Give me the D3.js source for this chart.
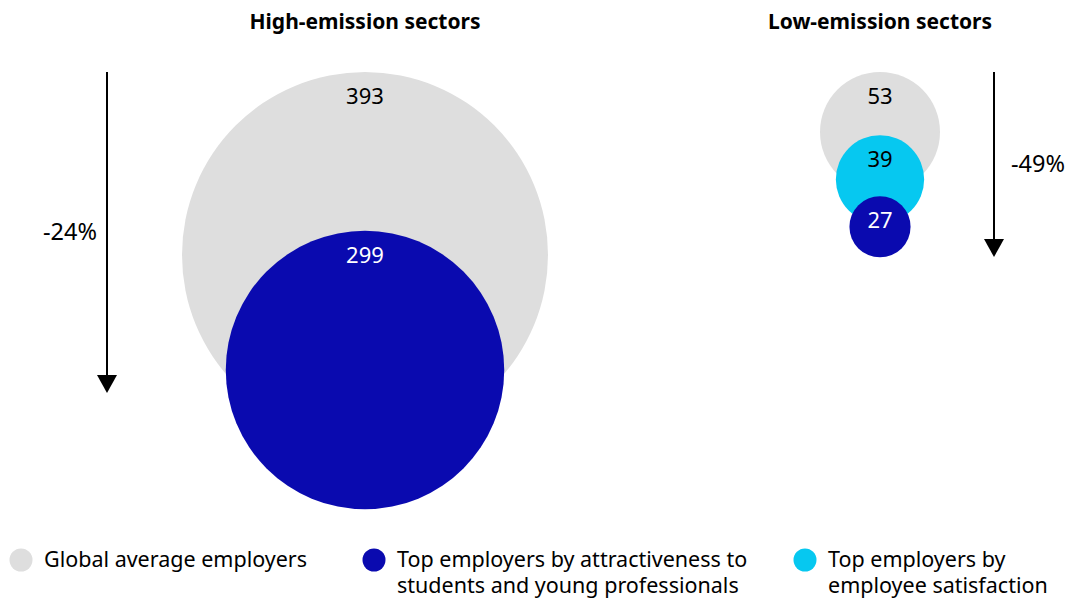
<!DOCTYPE html>
<html>
<head>
<meta charset="utf-8">
<script src="https://cdn.jsdelivr.net/npm/d3@7"></script>
<style>
  html, body { margin: 0; padding: 0; background: #fff; }
  svg text { font-family: "Noto Sans", "Open Sans", sans-serif; fill: #000; }
  .panel-title { font-weight: 700; font-size: 21px; }
  .value-label { font-size: 22px; }
  .change-label { font-size: 23.5px; }
  .legend-label { font-size: 21.5px; }
</style>
</head>
<body>
<div id="chart"></div>
<script>
// categories (series) shown in both panels and the legend
const seriesNames = [
  "Global average employers",
  "Top employers by attractiveness to students and young professionals",
  "Top employers by employee satisfaction"
];
const seriesColors = ["#dedede", "#0a0aaf", "#06c8f0"];

// legend labels split across two lines like the original
const legendLines = [
  ["Global average employers"],
  ["Top employers by attractiveness to", "students and young professionals"],
  ["Top employers by", "employee satisfaction"]
];

// panel data
const panelTitles = ["High-emission sectors", "Low-emission sectors"];
const highValues = [393, 299];        // global avg, attractiveness
const highSeries = [0, 1];
const lowValues = [53, 39, 27];       // global avg, satisfaction, attractiveness
const lowSeries = [0, 2, 1];
const changeLabels = ["-24%", "-49%"];

const width = 1068;
const height = 598;

const svg = d3.select("#chart")
  .append("svg")
  .attr("width", width)
  .attr("height", height)
  .attr("viewBox", [0, 0, width, height]);

// layout of each panel: centre x, max radius, step between stacked circle centres,
// arrow x and which side the change label sits on
const panels = [
  { title: panelTitles[0], values: highValues, series: highSeries, cx: 365, maxR: 183, step: 115,
    arrowX: 107, arrowEnd: 393, labelSide: "left", change: changeLabels[0] },
  { title: panelTitles[1], values: lowValues, series: lowSeries, cx: 880, maxR: 60, step: 47.4,
    arrowX: 994, arrowEnd: 257, labelSide: "right", change: changeLabels[1] }
];

const topY = 72;

// arrow marker
svg.append("defs")
  .append("marker")
  .attr("id", "arrowhead")
  .attr("viewBox", "0 0 20 18")
  .attr("refX", 10)
  .attr("refY", 0)
  .attr("markerWidth", 20)
  .attr("markerHeight", 18)
  .attr("markerUnits", "userSpaceOnUse")
  .attr("orient", "0")
  .append("path")
  .attr("d", "M0,0L20,0L10,18Z")
  .attr("fill", "#000");

panels.forEach((p) => {
  const g = svg.append("g");

  // radius proportional to value within each panel
  const r = d3.scaleLinear().domain([0, d3.max(p.values)]).range([0, p.maxR]);

  // title
  g.append("text")
    .attr("class", "panel-title")
    .attr("x", p.cx)
    .attr("y", 29)
    .attr("text-anchor", "middle")
    .text(p.title);

  const items = p.values.map((v, i) => ({
    value: v,
    color: seriesColors[p.series[i]],
    r: r(v),
    cy: topY + p.maxR + i * p.step
  }));

  g.selectAll("circle.bubble")
    .data(items)
    .join("circle")
    .attr("class", "bubble")
    .attr("cx", p.cx)
    .attr("cy", (d) => d.cy)
    .attr("r", (d) => d.r)
    .attr("fill", (d) => d.color);

  g.selectAll("text.value-label")
    .data(items)
    .join("text")
    .attr("class", "value-label")
    .attr("x", p.cx)
    .attr("y", (d) => d.cy - d.r + 32)
    .attr("text-anchor", "middle")
    .style("fill", (d) => (d.color === seriesColors[1] ? "#fff" : "#000"))
    .text((d) => d.value);

  // change arrow
  g.append("line")
    .attr("x1", p.arrowX)
    .attr("x2", p.arrowX)
    .attr("y1", topY)
    .attr("y2", p.arrowEnd - 18)
    .attr("stroke", "#000")
    .attr("stroke-width", 2)
    .attr("marker-end", "url(#arrowhead)");

  g.append("text")
    .attr("class", "change-label")
    .attr("x", p.labelSide === "left" ? p.arrowX - 10 : p.arrowX + 17)
    .attr("y", (topY + p.arrowEnd) / 2 + 7)
    .attr("text-anchor", p.labelSide === "left" ? "end" : "start")
    .text(p.change);
});

// legend
const legendX = [21, 374, 805];
const legend = svg.append("g");
legendLines.forEach((lines, i) => {
  const item = legend.append("g").attr("transform", `translate(${legendX[i]},560)`);
  item.append("circle").attr("r", 11.5).attr("fill", seriesColors[i]);
  const t = item.append("text")
    .attr("class", "legend-label")
    .attr("x", 23)
    .attr("y", 7);
  lines.forEach((line, j) => {
    t.append("tspan").attr("x", 23).attr("dy", j === 0 ? 0 : 26).text(line);
  });
});
</script>
</body>
</html>
